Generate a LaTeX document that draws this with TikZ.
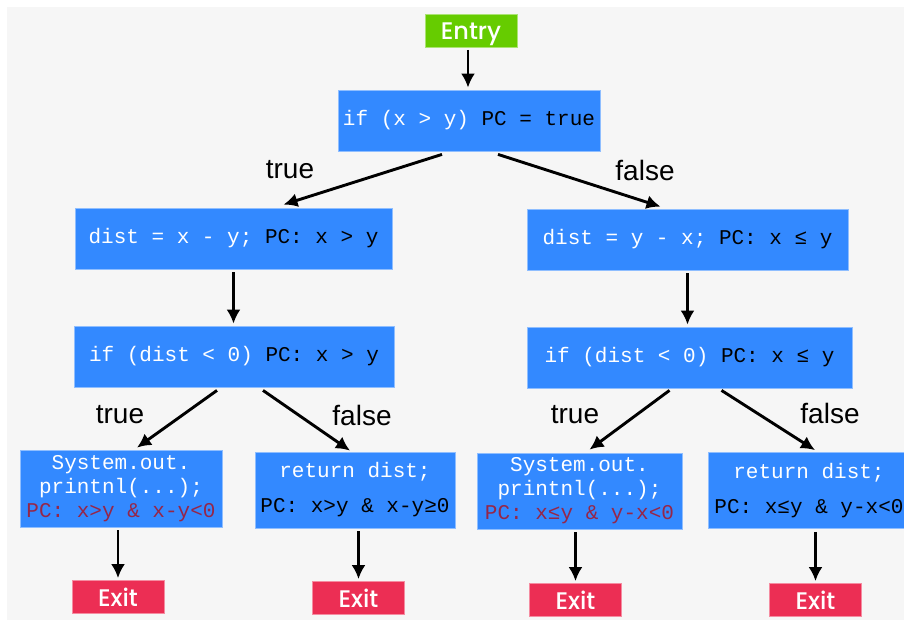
\documentclass[tikz,border=0pt]{standalone}
\usepackage{fontspec}
\usetikzlibrary{calc, positioning}
\usetikzlibrary{arrows.meta}

\newfontfamily\codefont{Liberation Mono}
\newfontfamily\lblfont{Liberation Sans}
\newfontfamily\termfont{Poppins}[UprightFont={* Medium}]

\definecolor{boxblue}{RGB}{51,137,255}
\definecolor{entrygreen}{RGB}{102,204,0}
\definecolor{exitred}{RGB}{236,46,84}
\definecolor{pcred}{RGB}{150,38,72}
\definecolor{bggray}{RGB}{246,246,246}

% path condition part of a box, printed in black
\newcommand{\pc}[1]{\textcolor{black}{#1}}

\begin{document}
\begin{tikzpicture}[x=1pt, y=-1pt, ->, >={Latex[length=14pt,width=14pt]}, line width=2.9pt,
    code/.style={fill=boxblue, draw=boxblue!55!white, line width=0.8pt, text=white,
        font=\codefont\fontsize{21}{24}\selectfont, align=center, inner sep=0pt, minimum height=61},
    term/.style={draw=#1!55!white, fill=#1, line width=0.8pt, text=white,
        font=\termfont\fontsize{24}{26}\selectfont, text depth=0pt,
        minimum width=92, minimum height=33, inner sep=0pt},
    lbl/.style={font=\lblfont\fontsize{28}{30}\selectfont, inner sep=0pt}]

    \useasboundingbox (0,0) rectangle (904,621);
    \fill[bggray, -] (7,7) rectangle (904,620);

    \node[term=entrygreen] (entry) at (471,31) {Entry};
    \node[code, minimum width=262] (cond) at (469,120.5) {if (x > y) \pc{PC = true}};

    % x > y branch
    \node[code, minimum width=317] (ldist) at (233.5,238.5) {dist = x - y; \pc{PC: x > y}};
    \node[code, minimum width=320] (lif) at (234,356.5) {if (dist < 0) \pc{PC: x > y}};
    \node[code, minimum width=202, minimum height=77] (lprint) at (121,488.5)
        {System.out.\\printnl(...);\\\textcolor{pcred}{PC: x>y \& x-y<0}};
    \node[code, minimum width=200, minimum height=76] (lret) at (355,490)
        {return dist;\\[11pt]\pc{PC: x>y \& x-y≥0}};

    % x <= y branch
    \node[code, minimum width=321] (rdist) at (687.5,239.5) {dist = y - x; \pc{PC: x ≤ y}};
    \node[code, minimum width=325] (rif) at (689.5,357.5) {if (dist < 0) \pc{PC: x ≤ y}};
    \node[code, minimum width=205, minimum height=76] (rprint) at (579.5,491)
        {System.out.\\printnl(...);\\\textcolor{pcred}{PC: x≤y \& y-x<0}};
    \node[code, minimum width=202, minimum height=76] (rret) at (809,490.5)
        {return dist;\\[11pt]\pc{PC: x≤y \& y-x<0}};

    \node[term=exitred] (exit1) at (118,597) {Exit};
    \node[term=exitred] (exit2) at (358.5,598) {Exit};
    \node[term=exitred] (exit3) at (575.5,600) {Exit};
    \node[term=exitred] (exit4) at (815.5,600) {Exit};

    \node[lbl] (t0) at (290,170) {true};
    \node[lbl] (f0) at (645,170) {false};
    \node[lbl] (t1) at (120,415) {true};
    \node[lbl] (f1) at (362,415) {false};
    \node[lbl] (t2) at (575,415) {true};
    \node[lbl] (f2) at (830,413) {false};

    \draw ($(entry.south)+(-3,2)$) -- ($(entry.south |- cond.north)+(-3,-2)$);
    \draw ($(cond.south)+(-27,3)$) -- ($(ldist.north)+(50,-3)$);
    \draw ($(cond.south)+(29,3)$) -- ($(rdist.north)+(-27,-2)$);

    \draw ($(ldist.south)+(0,3)$) -- ($(ldist.south |- lif.north)+(0,-2)$);
    \draw ($(lif.south)+(-17,3)$) -- ($(lprint.north)+(16,-2)$);
    \draw ($(lif.south)+(29,3)$) -- ($(lret.north)+(-5,-1)$);

    \draw ($(rdist.south)+(0,3)$) -- ($(rdist.south |- rif.north)+(0,-2)$);
    \draw ($(rif.south)+(-20,2)$) -- ($(rprint.north)+(10,-3)$);
    \draw ($(rif.south)+(32,2)$) -- ($(rret.north)+(6,-2)$);

    \draw ($(lprint.south -| exit1)+(0,3)$) -- ($(exit1.north)+(0,-2)$);
    \draw ($(lret.south -| exit2)+(0,3)$) -- ($(exit2.north)+(0,-2)$);
    \draw ($(rprint.south -| exit3)+(0,3)$) -- ($(exit3.north)+(0,-2)$);
    \draw ($(rret.south -| exit4)+(0,3)$) -- ($(exit4.north)+(0,-2)$);

\end{tikzpicture}
\end{document}
